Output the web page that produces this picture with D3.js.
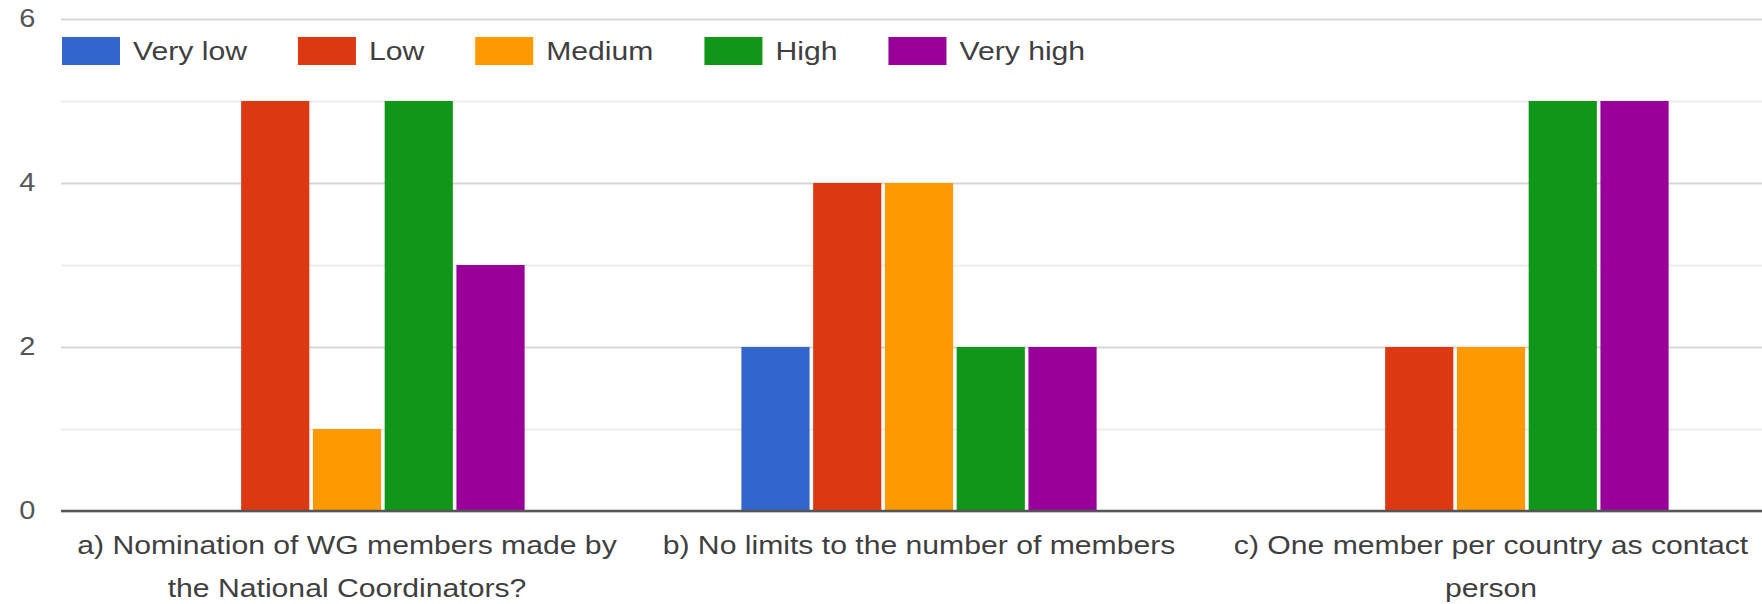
<!DOCTYPE html>
<html>
<head>
<meta charset="utf-8">
<script src="https://cdn.jsdelivr.net/npm/d3@7"></script>
<style>
  html, body { margin: 0; padding: 0; background: #fff; }
  svg { display: block; }
  text { font-family: "Liberation Sans", Arial, sans-serif; }
</style>
</head>
<body>
<svg id="chart" width="1762" height="604"></svg>
<script>
// ---- data ----
const categories = [
  "a) Nomination of WG members made by the National Coordinators?",
  "b) No limits to the number of members",
  "c) One member per country as contact person"
];
const seriesNames = ["Very low", "Low", "Medium", "High", "Very high"];
const veryLow  = [0, 2, 0];
const low      = [5, 4, 2];
const medium   = [1, 4, 2];
const high     = [5, 2, 5];
const veryHigh = [3, 2, 5];
const yTickLabels = [0, 2, 4, 6];
const colors = ["#3366cc", "#dc3912", "#ff9900", "#109618", "#990099"];

const seriesValues = [veryLow, low, medium, high, veryHigh];

// ---- layout ----
const W = 1762, H = 604;
const plotLeft = 61, plotTop = 19, plotBottom = 511;
const stepW = 572;
const SX = 1.16; // horizontal text stretch seen in the reference
const textColor = "#3f3f3f";

const svg = d3.select("#chart");

const x0 = d3.scaleBand()
  .domain(categories)
  .range([plotLeft, plotLeft + stepW * 3])
  .paddingInner(0.379)
  .paddingOuter(0.1895);

const x1 = d3.scaleBand()
  .domain(seriesNames)
  .range([0, x0.bandwidth()])
  .paddingInner(0.05);

const y = d3.scaleLinear().domain([0, 6]).range([plotBottom, plotTop]);

// gridlines
const grid = svg.append("g")
  .attr("transform", `translate(${plotLeft},0)`)
  .call(d3.axisLeft(y).tickValues(d3.range(0, 7)).tickSize(-(W - plotLeft)).tickFormat(""));
grid.select(".domain").remove();
grid.selectAll(".tick line")
  .attr("stroke", d => d % 2 === 0 ? "#d6d6d6" : "#ececec")
  .attr("stroke-width", 2);

// y tick labels
const yAxis = svg.append("g")
  .attr("transform", `translate(${plotLeft},0)`)
  .call(d3.axisLeft(y).tickValues(yTickLabels).tickFormat(d3.format("d")).tickSize(0).tickPadding(22));
yAxis.select(".domain").remove();
yAxis.selectAll(".tick text")
  .attr("font-size", 25)
  .attr("fill", "#555")
  .attr("font-family", "'Liberation Sans', Arial, sans-serif")
  .attr("dy", "0.3em")
  .attr("transform", `scale(${SX},1)`);

// bars
const groups = svg.append("g").selectAll("g")
  .data(categories)
  .join("g")
  .attr("transform", d => `translate(${x0(d)},0)`);

groups.selectAll("rect")
  .data((d, i) => seriesNames.map((s, j) => ({ s, v: seriesValues[j][i], c: colors[j] })))
  .join("rect")
  .attr("x", d => x1(d.s))
  .attr("width", x1.bandwidth())
  .attr("y", d => y(d.v))
  .attr("height", d => y(0) - y(d.v))
  .attr("fill", d => d.c);

// baseline
svg.append("line")
  .attr("x1", plotLeft).attr("x2", W)
  .attr("y1", y(0)).attr("y2", y(0))
  .attr("stroke", "#555").attr("stroke-width", 2.5);

// x axis labels (wrapped)
const xAxis = svg.append("g")
  .attr("transform", `translate(0,${plotBottom})`)
  .call(d3.axisBottom(x0).tickSize(0).tickFormat(""));
xAxis.select(".domain").remove();

const maxLabelW = stepW - 10;
xAxis.selectAll(".tick").each(function(d) {
  const t = d3.select(this).append("text")
    .attr("text-anchor", "middle")
    .attr("font-size", 26)
    .attr("fill", textColor)
    .attr("transform", `scale(${SX},1)`)
    .attr("y", 43);
  const words = d.split(" ");
  let line = [];
  let lineNo = 0;
  let tspan = t.append("tspan").attr("x", 0).attr("y", 43);
  for (const w of words) {
    line.push(w);
    tspan.text(line.join(" "));
    if (tspan.node().getComputedTextLength() * SX > maxLabelW && line.length > 1) {
      line.pop();
      tspan.text(line.join(" "));
      line = [w];
      lineNo++;
      tspan = t.append("tspan").attr("x", 0).attr("y", 43 + lineNo * 43).text(w);
    }
  }
});

// legend
const legend = svg.append("g");
let lx = 62;
seriesNames.forEach((name, i) => {
  legend.append("rect")
    .attr("x", lx).attr("y", 37)
    .attr("width", 58).attr("height", 28)
    .attr("fill", colors[i]);
  const tx = lx + 71;
  const t = legend.append("text")
    .attr("transform", `translate(${tx},60) scale(${SX},1)`)
    .attr("font-size", 26)
    .attr("fill", textColor)
    .text(name);
  const tw = t.node().getComputedTextLength() * SX;
  lx = tx + tw + 51;
});
</script>
</body>
</html>
